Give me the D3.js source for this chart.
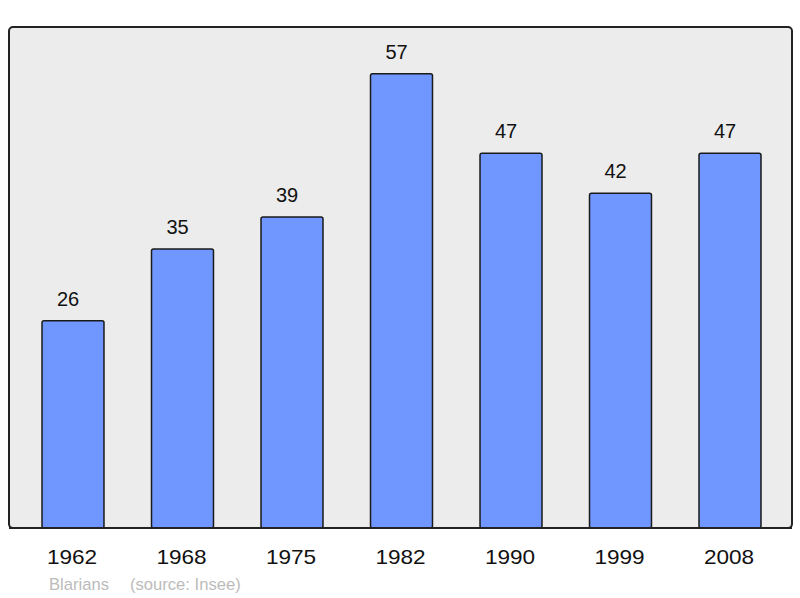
<!DOCTYPE html>
<html><head><meta charset="utf-8">
<script src="https://cdn.jsdelivr.net/npm/d3@7"></script>
<style>body{margin:0;background:#fff}svg{display:block}</style>
</head><body>
<script>
const years = ["1962","1968","1975","1982","1990","1999","2008"];
const population = [26,35,39,57,47,42,47];
const commune = "Blarians";
const source = "(source: Insee)";

const W = 800, H = 598;
const svg = d3.select("body").append("svg").attr("width", W).attr("height", H);
const FONT = "Liberation Sans, Arial, sans-serif";

const panel = {x0: 9, y0: 27, x1: 792, y1: 528};
const x = d3.scaleBand().domain(years).range([18.25, 784.75]).padding(0);
const y = d3.scaleLinear().domain([0, 62.85]).range([panel.y1, panel.y0]);
const bw = x.step() * 0.566;

svg.append("rect")
  .attr("x", panel.x0).attr("y", panel.y0)
  .attr("width", panel.x1 - panel.x0).attr("height", panel.y1 - panel.y0)
  .attr("rx", 4).attr("fill", "#ececec").attr("stroke", "#222").attr("stroke-width", 2);

const data = years.map((yr, i) => ({yr, v: population[i]}));

svg.selectAll("rect.bar").data(data).join("rect").attr("class", "bar")
  .attr("x", d => x(d.yr) + (x.step() - bw) / 2)
  .attr("y", d => y(d.v))
  .attr("width", bw)
  .attr("height", d => y(0) - y(d.v))
  .attr("rx", 2)
  .attr("fill", "#7096ff").attr("stroke", "#1a1a1a").attr("stroke-width", 1.5);

svg.append("line").attr("x1", panel.x0).attr("x2", panel.x1)
  .attr("y1", panel.y1).attr("y2", panel.y1)
  .attr("stroke", "#222").attr("stroke-width", 2);

svg.selectAll("text.val").data(data).join("text").attr("class", "val")
  .attr("x", d => x(d.yr) + x.step() / 2 - 5)
  .attr("y", d => y(d.v) - 15)
  .attr("text-anchor", "middle")
  .attr("font-family", FONT)
  .attr("font-size", 20).attr("fill", "#111")
  .text(d => d.v);

svg.selectAll("text.yr").data(data).join("text").attr("class", "yr")
  .attr("transform", d => `translate(${x(d.yr) + x.step() / 2 - 1},564) scale(1.13,1)`)
  .attr("text-anchor", "middle")
  .attr("font-family", FONT)
  .attr("font-size", 20).attr("fill", "#111")
  .text(d => d.yr);

svg.append("text").attr("x", 49).attr("y", 590)
  .attr("font-family", FONT)
  .attr("font-size", 16.6).attr("fill", "#bbb")
  .text(commune);
svg.append("text").attr("x", 130).attr("y", 590)
  .attr("font-family", FONT)
  .attr("font-size", 16.6).attr("fill", "#bbb")
  .text(source);
</script>
</body></html>
